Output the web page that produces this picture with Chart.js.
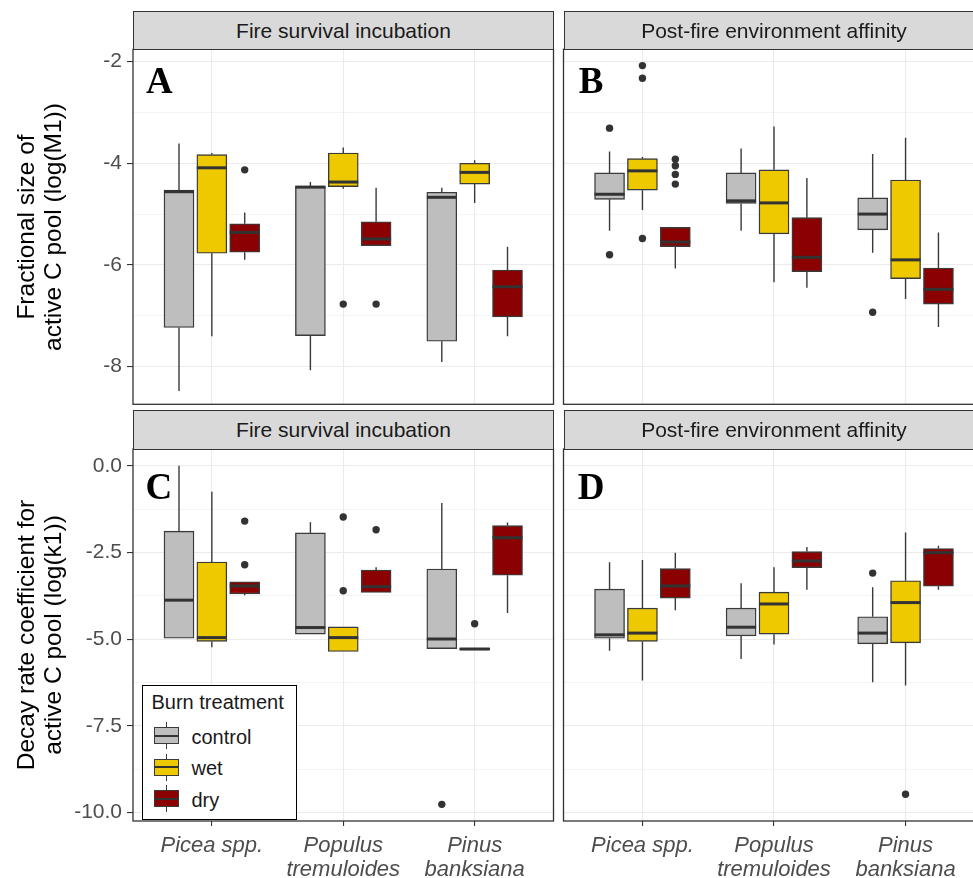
<!DOCTYPE html>
<html>
<head>
<meta charset="utf-8">
<script src="https://cdn.jsdelivr.net/npm/chart.js@4.4.0/dist/chart.umd.min.js"></script>
<style>
html, body { margin: 0; padding: 0; background: #fff; overflow: hidden; }
body { width: 973px; height: 878px; position: relative; font-family: 'Liberation Sans', Arial, sans-serif; }
canvas { position: absolute; }
.strip { position: absolute; box-sizing: border-box; background: #D9D9D9; border: 1.3px solid #333; color: #1A1A1A; font-size: 21px; text-align: center; line-height: 36px; padding-top: 1px; white-space: nowrap; overflow: hidden; }
.ytitle { position: absolute; width: 420px; height: 54px; line-height: 27px; font-size: 24.5px; text-align: center; transform: rotate(-90deg); color: #000; white-space: nowrap; }
.letter { position: absolute; font-family: 'Liberation Serif', 'Times New Roman', serif; font-weight: bold; font-size: 37px; line-height: 37px; color: #000; }
#legend { position: absolute; left: 141.5px; top: 685px; width: 155.5px; height: 134.5px; box-sizing: border-box; border: 1.6px solid #000; background: #fff; }
.ltext { position: absolute; font-size: 20px; line-height: 20px; color: #1A1A1A; white-space: nowrap; }
.lpart { position: absolute; }
</style>
</head>
<body>
<canvas id="cA" width="510" height="395" style="left:50px;top:29px"></canvas>
<canvas id="cB" width="440" height="395" style="left:555px;top:29px"></canvas>
<canvas id="cC" width="510" height="449" style="left:50px;top:429px"></canvas>
<canvas id="cD" width="440" height="449" style="left:555px;top:429px"></canvas>
<script>
// ---------- data ----------
const categories = [['Picea spp.'], ['Populus', 'tremuloides'], ['Pinus', 'banksiana']];
const treatments = ['control', 'wet', 'dry'];
const treatmentColors = ['#BEBEBE', '#EEC900', '#8B0000'];
const facetLabels = ['Fire survival incubation', 'Post-fire environment affinity'];
const panelLetters = ['A', 'B', 'C', 'D'];
const rowTitleTop = ['Fractional size of', 'active C pool (log(M1))'];
const rowTitleBottom = ['Decay rate coefficient for', 'active C pool (log(k1))'];
const yMajorTop = [-8, -6, -4, -2];
const yMinorTop = [-7, -5, -3];
const yMajorBottom = [-10, -7.5, -5, -2.5, 0];
const yMinorBottom = [-8.75, -6.25, -3.75, -1.25];

// boxes: per category [lower whisker, Q1, median, Q3, upper whisker]
const A_control = [[-8.48, -7.23, -4.56, -4.53, -3.61], [-8.07, -7.39, -4.47, -4.45, -4.37], [-7.91, -7.50, -4.67, -4.57, -4.48]];
const A_wet     = [[-7.40, -5.77, -4.09, -3.83, -3.80], [-4.50, -4.46, -4.37, -3.80, -3.69], [-4.78, -4.41, -4.18, -4.00, -3.94]];
const A_dry     = [[-5.90, -5.75, -5.36, -5.19, -4.97], [-5.62, -5.62, -5.49, -5.15, -4.48], [-7.40, -7.02, -6.43, -6.10, -5.64]];
const B_control = [[-5.33, -4.71, -4.61, -4.19, -3.77], [-5.33, -4.79, -4.74, -4.19, -3.71], [-5.76, -5.31, -5.00, -4.68, -3.82]];
const B_wet     = [[-4.92, -4.53, -4.15, -3.91, -3.88], [-6.34, -5.39, -4.78, -4.13, -3.28], [-6.67, -6.27, -5.90, -4.33, -3.50]];
const B_dry     = [[-6.07, -5.64, -5.55, -5.26, -5.26], [-6.45, -6.13, -5.85, -5.07, -4.29], [-7.22, -6.77, -6.48, -6.06, -5.36]];
const C_control = [[-4.97, -4.97, -3.87, -1.88, 0.01], [-4.85, -4.85, -4.66, -1.93, -1.62], [-5.27, -5.27, -4.99, -2.97, -1.07]];
const C_wet     = [[-5.23, -5.06, -4.95, -2.77, -0.74], [-5.35, -5.35, -4.95, -4.64, -4.64], [-5.30, -5.30, -5.28, -5.25, -5.25]];
const C_dry     = [[-3.73, -3.69, -3.46, -3.34, -3.34], [-3.65, -3.65, -3.48, -3.00, -2.92], [-4.24, -3.15, -2.07, -1.72, -1.63]];
const D_control = [[-5.33, -4.97, -4.87, -3.55, -2.78], [-5.57, -4.90, -4.65, -4.10, -3.38], [-6.24, -5.13, -4.82, -4.35, -3.50]];
const D_wet     = [[-6.19, -5.06, -4.82, -4.10, -2.71], [-5.15, -4.85, -3.98, -3.64, -2.92], [-6.33, -5.10, -3.94, -3.31, -1.92]];
const D_dry     = [[-4.16, -3.81, -3.46, -2.96, -2.50], [-3.57, -2.93, -2.74, -2.47, -2.34], [-3.57, -3.47, -2.50, -2.38, -2.30]];

// outliers: per category list of values
const A_out_control = [[], [], []];
const A_out_wet     = [[], [-6.77], []];
const A_out_dry     = [[-4.13], [-6.77], []];
const B_out_control = [[-3.31, -5.80], [], [-6.93]];
const B_out_wet     = [[-2.08, -2.33, -5.48], [], []];
const B_out_dry     = [[-3.92, -4.05, -4.22, -4.41], [], []];
const C_out_control = [[], [], [-9.76]];
const C_out_wet     = [[], [-1.47, -3.60], [-4.55]];
const C_out_dry     = [[-1.59, -2.85], [-1.84], []];
const D_out_control = [[], [], [-3.09]];
const D_out_wet     = [[], [], [-9.47]];
const D_out_dry     = [[], [], []];

// ---------- drawing ----------
const FONT = "'Liberation Sans', Arial, sans-serif";
const DODGE = 0.25;

const boxPlugin = {
  id: 'boxes',
  beforeDatasetsDraw(chart) {
    const ctx = chart.ctx, ys = chart.scales.y;
    ctx.save();
    ctx.strokeStyle = '#3a3a3a';
    ctx.lineWidth = 1.4;
    chart.data.datasets.forEach((ds, di) => {
      if (!ds.stats) return;
      chart.getDatasetMeta(di).data.forEach((bar, i) => {
        const s = ds.stats[i];
        ctx.beginPath();
        ctx.moveTo(bar.x, ys.getPixelForValue(s[0]));
        ctx.lineTo(bar.x, ys.getPixelForValue(s[1]));
        ctx.moveTo(bar.x, ys.getPixelForValue(s[3]));
        ctx.lineTo(bar.x, ys.getPixelForValue(s[4]));
        ctx.stroke();
      });
    });
    ctx.restore();
  },
  afterDatasetsDraw(chart) {
    const ctx = chart.ctx, ys = chart.scales.y;
    ctx.save();
    ctx.strokeStyle = '#333';
    ctx.lineWidth = 3;
    chart.data.datasets.forEach((ds, di) => {
      if (!ds.stats) return;
      chart.getDatasetMeta(di).data.forEach((bar, i) => {
        const y = ys.getPixelForValue(ds.stats[i][2]);
        ctx.beginPath();
        ctx.moveTo(bar.x - bar.width / 2, y);
        ctx.lineTo(bar.x + bar.width / 2, y);
        ctx.stroke();
      });
    });
    ctx.restore();
  },
  afterDraw(chart) {
    const a = chart.chartArea, ctx = chart.ctx;
    ctx.save();
    ctx.strokeStyle = '#333';
    ctx.lineWidth = 1.3;
    ctx.strokeRect(a.left, a.top, a.right - a.left, a.bottom - a.top);
    ctx.restore();
  }
};

function makePanel(id, boxes, outliers, o) {
  const datasets = treatments.map((t, ti) => ({
    type: 'bar', label: t, stats: boxes[ti],
    data: boxes[ti].map((b, ci) => ({ x: ci + 1 + (ti - 1) * DODGE, y: [b[1], b[3]] })),
    backgroundColor: treatmentColors[ti], borderColor: '#3a3a3a', borderWidth: 1.4,
    borderSkipped: false, barThickness: 30, grouped: false, order: 1
  }));
  const pts = [];
  outliers.forEach((arr, ti) => arr.forEach((vals, ci) => vals.forEach(v => pts.push({ x: ci + 1 + (ti - 1) * DODGE, y: v }))));
  datasets.push({ type: 'scatter', label: 'outliers', data: pts, pointRadius: 3.7, pointBackgroundColor: '#333', pointBorderWidth: 0, order: 0 });

  const majors = o.majors, minors = o.minors;
  const isMajor = v => majors.some(m => Math.abs(m - v) < 1e-6);
  new Chart(document.getElementById(id), {
    type: 'bar',
    data: { datasets },
    options: {
      responsive: false, animation: false, events: [],
      layout: { padding: o.padding },
      plugins: { legend: { display: false }, tooltip: { enabled: false } },
      scales: {
        x: {
          type: 'linear', min: 0.4, max: 3.6, offset: false,
          afterBuildTicks: s => { s.ticks = categories.map((c, i) => ({ value: i + 1 })); },
          ticks: {
            display: o.xLabels, autoSkip: false, maxRotation: 0, padding: 8,
            color: '#4D4D4D', font: { family: FONT, size: 22, style: 'italic', lineHeight: 1.1 },
            callback: v => categories[Math.round(v) - 1]
          },
          grid: { offset: false, color: '#EBEBEB', lineWidth: 1.1, drawTicks: o.xLabels, tickLength: 5, tickColor: '#333', tickWidth: 1.1 },
          border: { display: false },
          afterFit: s => { s.height = o.xHeight; }
        },
        y: {
          type: 'linear', min: o.ymin, max: o.ymax, beginAtZero: false,
          afterBuildTicks: s => { s.ticks = majors.concat(minors).sort((a, b) => a - b).map(v => ({ value: v })); },
          ticks: {
            display: o.yLabels, autoSkip: false, padding: 5,
            color: '#4D4D4D', font: { family: FONT, size: 21 },
            callback: v => isMajor(v) ? o.fmt(v) : ''
          },
          grid: {
            color: '#EBEBEB',
            lineWidth: c => (c.tick && isMajor(c.tick.value)) ? 1.1 : 0.55,
            drawTicks: o.yLabels, tickLength: 6,
            tickColor: c => (c.tick && isMajor(c.tick.value)) ? '#333' : 'rgba(0,0,0,0)',
            tickWidth: 1.1
          },
          border: { display: false },
          afterFit: s => { s.width = o.yWidth; }
        }
      }
    },
    plugins: [boxPlugin]
  });
}

const fmtTop = v => String(v);
const fmtBottom = v => v.toFixed(1);

makePanel('cA', [A_control, A_wet, A_dry], [A_out_control, A_out_wet, A_out_dry],
  { ymin: -8.74, ymax: -1.76, majors: yMajorTop, minors: yMinorTop, fmt: fmtTop,
    yLabels: true, yWidth: 83, xLabels: false, xHeight: 0,
    padding: { left: 0, top: 20.3, right: 6.5, bottom: 19.7 } });
makePanel('cB', [B_control, B_wet, B_dry], [B_out_control, B_out_wet, B_out_dry],
  { ymin: -8.74, ymax: -1.76, majors: yMajorTop, minors: yMinorTop, fmt: fmtTop,
    yLabels: false, yWidth: 0, xLabels: false, xHeight: 0,
    padding: { left: 8.5, top: 20.3, right: 10.5, bottom: 19.7 } });
makePanel('cC', [C_control, C_wet, C_dry], [C_out_control, C_out_wet, C_out_dry],
  { ymin: -10.24, ymax: 0.49, majors: yMajorBottom, minors: yMinorBottom, fmt: fmtBottom,
    yLabels: true, yWidth: 83, xLabels: true, xHeight: 57,
    padding: { left: 0, top: 20, right: 6.5, bottom: 0 } });
makePanel('cD', [D_control, D_wet, D_dry], [D_out_control, D_out_wet, D_out_dry],
  { ymin: -10.24, ymax: 0.49, majors: yMajorBottom, minors: yMinorBottom, fmt: fmtBottom,
    yLabels: false, yWidth: 0, xLabels: true, xHeight: 57,
    padding: { left: 8.5, top: 20, right: 10.5, bottom: 0 } });

// ---------- strips, titles, letters, legend ----------
function addDiv(cls, text, style) {
  const d = document.createElement('div');
  d.className = cls;
  if (text !== null) d.textContent = text;
  Object.assign(d.style, style);
  document.body.appendChild(d);
  return d;
}
[133, 563.5].forEach((x, i) => {
  addDiv('strip', facetLabels[i], { left: x + 'px', top: '11px', width: '421px', height: '39px' });
  addDiv('strip', facetLabels[i], { left: x + 'px', top: '410px', width: '421px', height: '39.5px' });
});

function addRowTitle(lines, cx, cy) {
  const d = addDiv('ytitle', null, { left: (cx - 210) + 'px', top: (cy - 27) + 'px' });
  lines.forEach(l => { const s = document.createElement('div'); s.textContent = l; d.appendChild(s); });
}
addRowTitle(rowTitleTop, 38.5, 226.8);
addRowTitle(rowTitleBottom, 38.5, 635);

[[146, 62.3], [578.7, 62.3], [145.5, 467.8], [577.7, 468]].forEach((p, i) => {
  addDiv('letter', panelLetters[i], { left: p[0] + 'px', top: p[1] + 'px' });
});

const legend = addDiv('', null, {});
legend.id = 'legend';
addDiv('ltext', 'Burn treatment', { left: '151.5px', top: '692.4px' });
treatments.forEach((t, i) => {
  const top = 727 + i * 31.5;
  addDiv('lpart', null, { left: '166px', top: (top - 5) + 'px', width: '1.4px', height: '5px', background: '#3a3a3a' });
  addDiv('lpart', null, { left: '166px', top: (top + 17) + 'px', width: '1.4px', height: '5px', background: '#3a3a3a' });
  addDiv('lpart', null, { left: '154px', top: top + 'px', width: '25px', height: '17px', boxSizing: 'border-box', border: '1.4px solid #3a3a3a', background: treatmentColors[i] });
  addDiv('lpart', null, { left: '154px', top: (top + 7.5) + 'px', width: '25px', height: '2.2px', background: '#333' });
  addDiv('ltext', t, { left: '191.5px', top: (top - 0.5) + 'px' });
});
</script>
</body>
</html>
